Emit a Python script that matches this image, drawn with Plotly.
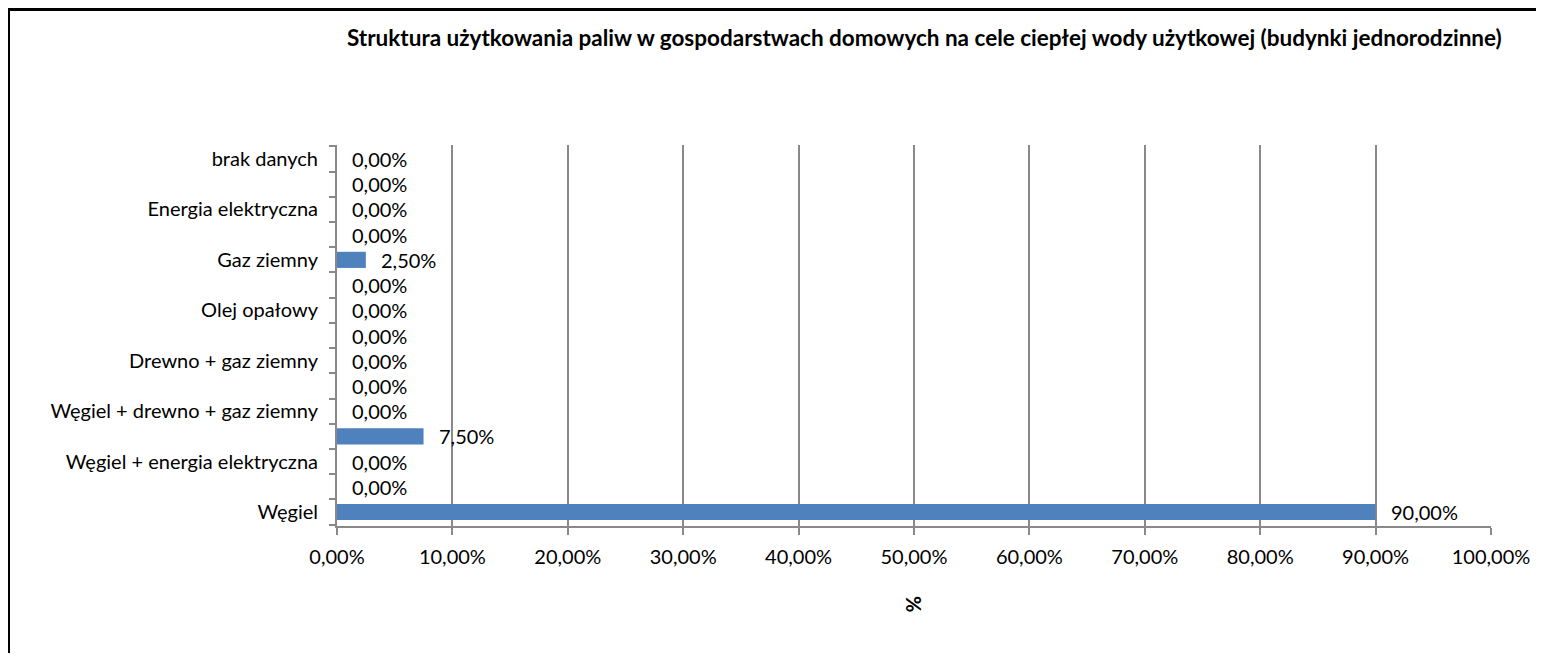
import plotly.graph_objects as go

# Categories bottom -> top (hidden-label categories get guessed names)
categories = [
    "Węgiel",
    "Węgiel + gaz ziemny",
    "Węgiel + energia elektryczna",
    "Węgiel + drewno",
    "Węgiel + drewno + gaz ziemny",
    "Drewno",
    "Drewno + gaz ziemny",
    "Drewno + energia elektryczna",
    "Olej opałowy",
    "Gaz ziemny + energia elektryczna",
    "Gaz ziemny",
    "Olej opałowy + energia elektryczna",
    "Energia elektryczna",
    "Inne",
    "brak danych",
]
values = [90.0, 0.0, 0.0, 7.5, 0.0, 0.0, 0.0, 0.0, 0.0, 0.0, 2.5, 0.0, 0.0, 0.0, 0.0]
shown_labels = [
    "Węgiel", "Węgiel + energia elektryczna", "Węgiel + drewno + gaz ziemny",
    "Drewno + gaz ziemny", "Olej opałowy", "Gaz ziemny", "Energia elektryczna", "brak danych",
]
x_ticks = [0, 10, 20, 30, 40, 50, 60, 70, 80, 90, 100]
x_ticktext = [f"{v},00%" for v in x_ticks]

title = "Struktura użytkowania paliw w gospodarstwach domowych na cele ciepłej wody użytkowej (budynki jednorodzinne)"

FONT = "Lato"
BAR = "#4F81BD"
GRID = "#898989"

def fmt(v):
    return f"{v:.2f}".replace(".", ",") + "%"

fig = go.Figure()
fig.add_trace(go.Bar(
    x=values, y=categories, orientation="h",
    marker=dict(color=BAR, line=dict(width=0)),
    hoverinfo="x+y",
))

for c, v in zip(categories, values):
    fig.add_annotation(
        x=v, y=c, xref="x", yref="y", text=fmt(v), showarrow=False,
        xanchor="left", yanchor="middle", xshift=13,
        font=dict(family=FONT, size=20, color="#000000"),
    )

# page body has an 8px margin; figure is sized/positioned to compensate
W, H = 1528, 645
L, R, T, B = 329, 45, 137, 127
pw, ph = W - L - R, H - T - B

def px_x(x):
    return (x - L) / pw

def px_y(y):
    return (H - B - y) / ph

fig.update_layout(
    width=W, height=H,
    margin=dict(l=L, r=R, t=T, b=B, pad=0, autoexpand=False),
    paper_bgcolor="white", plot_bgcolor="white",
    bargap=0.36,
    showlegend=False,
    font=dict(family=FONT, size=20, color="#000000"),
    xaxis=dict(
        range=[0, 100], tickmode="array", tickvals=x_ticks, ticktext=x_ticktext,
        showgrid=True, gridcolor=GRID, gridwidth=2,
        showline=True, linecolor=GRID, linewidth=2,
        ticks="outside", ticklen=7, tickcolor=GRID, tickwidth=2,
        ticklabelstandoff=5, zeroline=False, automargin=False,
        tickfont=dict(family=FONT, size=20),
    ),
    yaxis=dict(
        type="category", categoryorder="array", categoryarray=categories,
        tickmode="array", tickvals=categories,
        ticktext=[c if c in shown_labels else "" for c in categories],
        tickson="boundaries",
        showgrid=False, showline=True, linecolor=GRID, linewidth=2,
        ticks="outside", ticklen=6, tickcolor=GRID, tickwidth=2,
        ticklabelstandoff=13, automargin=False,
        tickfont=dict(family=FONT, size=20),
    ),
)

fig.add_annotation(
    text=f"<b>{title}</b>", xref="paper", yref="paper",
    x=px_x(916), y=px_y(30), xanchor="center", yanchor="middle",
    showarrow=False, font=dict(family=FONT, size=22.5, color="#000000"),
)
fig.add_annotation(
    text="<b>%</b>", xref="paper", yref="paper",
    x=px_x(906), y=px_y(596), xanchor="center", yanchor="middle",
    showarrow=False, textangle=90, font=dict(family=FONT, size=20, color="#000000"),
)
fig.add_shape(
    type="rect", xref="paper", yref="paper",
    x0=px_x(0.5), x1=px_x(1600),
    y0=px_y(700), y1=px_y(1.5),
    line=dict(color="#000000", width=3), fillcolor="rgba(0,0,0,0)", layer="below",
)

fig.write_html("out.html")
